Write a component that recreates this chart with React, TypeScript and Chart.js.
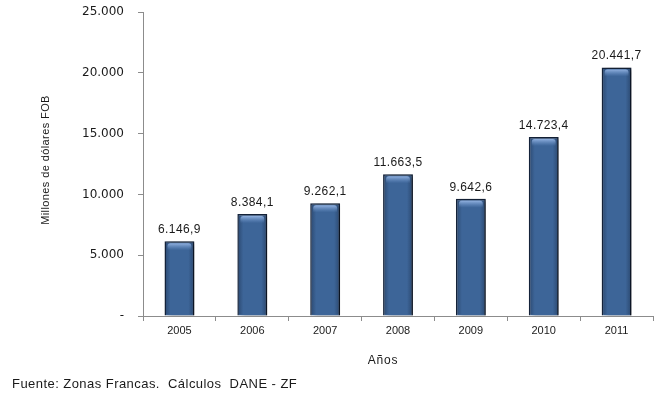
import React, { useEffect, useRef } from "react";
import { Chart, registerables } from "chart.js";

Chart.register(...registerables);

const years = ["2005", "2006", "2007", "2008", "2009", "2010", "2011"];
const values = [6146.9, 8384.1, 9262.1, 11663.5, 9642.6, 14723.4, 20441.7];
const yTicks = [0, 5000, 10000, 15000, 20000, 25000];
const yTitle = "Millones de dólares FOB";
const xTitle = "Años";
const footer = "Fuente: Zonas Francas.  Cálculos  DANE - ZF";

function fmtThousands(n: number): string {
  const s = Math.round(n).toString();
  return s.replace(/\B(?=(\d{3})+(?!\d))/g, ".");
}
function fmtValue(v: number): string {
  const intPart = Math.floor(v);
  const dec = Math.round((v - intPart) * 10);
  return fmtThousands(intPart) + "," + dec;
}

const decorPlugin = {
  id: "decor",
  beforeDatasetDraw(chart: any) {
    const ctx = chart.ctx;
    ctx.save();
    ctx.shadowColor = "rgba(0,0,0,0.45)";
    ctx.shadowOffsetX = 4;
    ctx.shadowOffsetY = 1;
    ctx.shadowBlur = 4;
  },
  afterDatasetDraw(chart: any) {
    const ctx = chart.ctx;
    ctx.restore();
    const meta = chart.getDatasetMeta(0);
    meta.data.forEach((bar: any, i: number) => {
      const left = bar.x - bar.width / 2;
      const right = bar.x + bar.width / 2;
      // side shading
      ctx.save();
      const sg = ctx.createLinearGradient(left, 0, right, 0);
      sg.addColorStop(0, "rgba(20,35,60,0.45)");
      sg.addColorStop(0.2, "rgba(20,35,60,0)");
      sg.addColorStop(0.8, "rgba(20,35,60,0)");
      sg.addColorStop(1, "rgba(20,35,60,0.45)");
      ctx.fillStyle = sg;
      ctx.fillRect(left + 1, bar.y + 1, bar.width - 2, bar.base - bar.y - 2);
      ctx.restore();
      // highlight band at top
      const top = bar.y + 2;
      const g = ctx.createLinearGradient(0, top, 0, top + 7);
      g.addColorStop(0, "rgba(160,190,235,0.85)");
      g.addColorStop(1, "rgba(120,160,215,0)");
      ctx.save();
      ctx.fillStyle = g;
      ctx.beginPath();
      const l = left + 3, r = right - 3, h = 7, rad = 3;
      ctx.moveTo(l + rad, top);
      ctx.lineTo(r - rad, top);
      ctx.quadraticCurveTo(r, top, r, top + rad);
      ctx.lineTo(r, top + h);
      ctx.lineTo(l, top + h);
      ctx.lineTo(l, top + rad);
      ctx.quadraticCurveTo(l, top, l + rad, top);
      ctx.fill();
      ctx.restore();
      // value label
      ctx.save();
      ctx.font = "12px 'Liberation Sans', Arial, sans-serif";
      (ctx as any).letterSpacing = "0.4px";
      ctx.fillStyle = "#1a1a1a";
      ctx.textAlign = "center";
      ctx.textBaseline = "alphabetic";
      ctx.fillText(fmtValue(values[i]), bar.x, bar.y - 8);
      ctx.restore();
    });
  },
  afterDraw(chart: any) {
    const ctx = chart.ctx;
    ctx.save();
    ctx.fillStyle = "#1a1a1a";
    ctx.font = "11px 'Liberation Sans', Arial, sans-serif";
    (ctx as any).letterSpacing = "0.4px";
    ctx.textAlign = "center";
    ctx.textBaseline = "middle";
    ctx.translate(46, 160);
    ctx.rotate(-Math.PI / 2);
    ctx.fillText(yTitle, 0, 0);
    ctx.restore();

    ctx.save();
    ctx.fillStyle = "#1a1a1a";
    ctx.font = "12px 'Liberation Sans', Arial, sans-serif";
    (ctx as any).letterSpacing = "0.8px";
    ctx.textAlign = "center";
    ctx.textBaseline = "middle";
    ctx.fillText(xTitle, 383, 361);
    ctx.font = "13px 'Liberation Sans', Arial, sans-serif";
    (ctx as any).letterSpacing = "0.45px";
    ctx.textAlign = "left";
    ctx.fillText(footer, 12, 384);
    ctx.restore();
  },
};

export default function App() {
  const ref = useRef<HTMLCanvasElement>(null);
  useEffect(() => {
    const canvas = ref.current!;
    const chart = new Chart(canvas, {
      type: "bar",
      data: {
        labels: years,
        datasets: [
          {
            data: values,
            backgroundColor: "#3d6598",
            borderColor: "#15233a",
            borderWidth: 1.5,
            barPercentage: 0.41,
            categoryPercentage: 1,
          },
        ],
      },
      options: {
        animation: false,
        responsive: false,
        layout: { padding: { top: 12, right: 5, left: 0, bottom: 0 } },
        plugins: { legend: { display: false }, tooltip: { enabled: false } },
        scales: {
          x: {
            grid: {
              offset: true,
              drawOnChartArea: false,
              drawTicks: true,
              tickLength: 5,
              color: "#8c8c8c",
            },
            border: { display: true, color: "#8c8c8c" },
            ticks: {
              color: "#1a1a1a",
              font: { family: "'Liberation Sans', Arial, sans-serif", size: 11 },
              padding: 3,
              maxRotation: 0,
            },
            afterFit: (s: any) => {
              s.height = 80;
              s.paddingLeft = 0;
              s.paddingRight = 0;
            },
          },
          y: {
            min: 0,
            max: 25000,
            afterBuildTicks: (s: any) => {
              s.ticks = yTicks.map((v) => ({ value: v }));
            },
            grid: {
              drawOnChartArea: false,
              drawTicks: true,
              tickLength: 5,
              color: "#8c8c8c",
            },
            border: { display: true, color: "#8c8c8c" },
            ticks: {
              color: "#1a1a1a",
              font: { family: "'DejaVu Sans', sans-serif", size: 12 },
              padding: 14,
              callback: (v: any) => (Number(v) === 0 ? "-" : fmtThousands(Number(v))),
            },
            afterFit: (s: any) => {
              s.width = 143;
              s.paddingTop = 0;
              s.paddingBottom = 0;
            },
          },
        },
      },
      plugins: [decorPlugin],
    } as any);
    return () => chart.destroy();
  }, []);
  return (
    <div style={{ position: "absolute", left: 0, top: 0, width: 658, height: 396, background: "#fff" }}>
      <canvas ref={ref} width={658} height={396} style={{ display: "block" }} />
    </div>
  );
}
